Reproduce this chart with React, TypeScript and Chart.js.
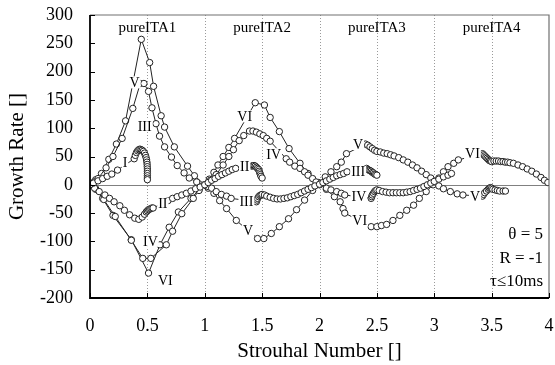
import React, { useEffect, useRef } from 'react';
import { Chart, registerables } from 'chart.js';
Chart.register(...registerables);

type P = [number, number];

// Growth rate modes (Strouhal number, growth rate)
const modeI: P[] = [
  [0, 0], [0.03, 3], [0.07, 7], [0.11, 11], [0.15, 15], [0.19, 19], [0.24, 26],
  [0.385, 46], [0.395, 52], [0.405, 57], [0.415, 60], [0.425, 62], [0.435, 63], [0.445, 62],
  [0.455, 61], [0.465, 59], [0.475, 56], [0.483, 52], [0.489, 48], [0.493, 44], [0.496, 40],
  [0.498, 36], [0.499, 32], [0.5, 28], [0.5, 24], [0.5, 20], [0.5, 16], [0.5, 12], [0.5, 9],
];

const modeII: P[] = [
  [0, 0], [0.04, -6], [0.08, -12], [0.13, -18], [0.17, -24], [0.21, -30], [0.26, -37],
  [0.3, -45], [0.345, -53], [0.39, -59], [0.425, -61], [0.455, -57], [0.475, -52], [0.49, -48],
  [0.5, -46], [0.51, -44], [0.52, -43], [0.53, -42], [0.54, -41], [0.55, -41],
  [0.68, -28], [0.72, -24], [0.76, -21], [0.8, -18], [0.84, -15], [0.88, -11], [0.92, -7],
  [0.96, -4], [1, 0], [1.03, 4], [1.06, 8], [1.09, 11], [1.12, 15], [1.15, 18], [1.18, 21],
  [1.21, 24], [1.24, 27], [1.27, 29],
  [1.41, 33], [1.42, 34], [1.43, 34], [1.44, 33], [1.45, 31], [1.46, 29], [1.47, 27],
  [1.475, 24], [1.48, 21], [1.485, 18], [1.49, 15], [1.5, 12],
];

const modeIII: P[] = [
  [0, 0], [0.035, 5], [0.07, 11], [0.14, 30], [0.2, 50], [0.28, 82], [0.373, 135],
  [0.438, 179], [0.47, 179], [0.51, 165], [0.54, 136], [0.575, 108], [0.606, 86], [0.65, 67],
  [0.71, 49], [0.76, 34], [0.82, 21], [0.865, 12], [0.93, 5], [1, 0],
  [1.03, -3], [1.06, -6], [1.1, -12], [1.145, -17], [1.19, -20], [1.23, -24],
  [1.45, -30], [1.455, -27], [1.46, -24], [1.47, -21], [1.48, -19], [1.49, -18], [1.5, -17],
  [1.52, -18], [1.54, -20], [1.57, -22], [1.6, -24], [1.63, -25], [1.66, -25], [1.69, -24],
  [1.72, -23], [1.75, -21], [1.78, -19], [1.81, -17], [1.84, -14], [1.87, -11], [1.9, -8],
  [1.93, -5], [1.96, -2], [2, 1], [2.03, 4], [2.06, 7], [2.09, 10], [2.12, 13], [2.15, 16],
  [2.18, 18], [2.21, 20], [2.24, 23],
  [2.41, 29], [2.42, 27], [2.43, 26], [2.44, 25], [2.45, 24], [2.46, 22], [2.47, 21],
  [2.48, 19], [2.49, 18], [2.5, 17],
];

const modeIV: P[] = [
  [0, 0], [0.05, -7], [0.12, -26], [0.22, -56], [0.36, -98], [0.46, -130], [0.53, -130],
  [0.665, -106], [0.72, -82], [0.8, -51], [0.9, -24], [0.95, -10], [1, 0],
  [1.05, 8], [1.1, 18], [1.16, 35], [1.21, 50], [1.25, 62], [1.3, 78], [1.34, 87], [1.39, 95],
  [1.42, 95], [1.45, 93], [1.48, 90], [1.51, 87], [1.54, 82], [1.57, 77],
  [1.71, 46], [1.74, 40], [1.785, 33], [1.83, 29], [1.87, 23], [1.9, 17], [1.94, 11],
  [1.97, 5], [2, 0], [2.06, -6], [2.1, -9], [2.15, -12], [2.19, -15], [2.22, -18],
  [2.45, -24], [2.455, -21], [2.46, -18], [2.47, -15], [2.48, -12], [2.49, -10], [2.5, -9],
  [2.52, -10], [2.55, -12], [2.58, -13], [2.61, -14], [2.64, -14], [2.67, -14], [2.7, -14],
  [2.73, -14], [2.76, -13], [2.79, -12], [2.82, -10], [2.85, -8], [2.88, -6], [2.91, -3],
  [2.94, 0], [2.97, 3], [3, 6], [3.04, 10], [3.08, 14], [3.12, 17], [3.15, 20],
];

const modeV: P[] = [
  [0, 0], [0.05, 9], [0.1, 20], [0.164, 45], [0.23, 72], [0.31, 113], [0.447, 257],
  [0.52, 216], [0.554, 174], [0.62, 122], [0.65, 102], [0.735, 67], [0.85, 33], [0.91, 16],
  [1, 0], [1.03, -6], [1.08, -15], [1.13, -28], [1.19, -42], [1.275, -63],
  [1.46, -95], [1.515, -95], [1.58, -86], [1.65, -74], [1.73, -60], [1.8, -44], [1.87, -27],
  [1.94, -10], [2, 3], [2.05, 14], [2.1, 23], [2.15, 32], [2.19, 40], [2.235, 55],
  [2.4, 72], [2.42, 70], [2.44, 67], [2.46, 64], [2.48, 61], [2.5, 59], [2.53, 58], [2.56, 56],
  [2.59, 55], [2.62, 53], [2.65, 51], [2.69, 48], [2.73, 44], [2.77, 40], [2.81, 35],
  [2.85, 30], [2.89, 24], [2.93, 18], [2.97, 12], [3, 5], [3.04, -2], [3.08, -7], [3.14, -12],
  [3.2, -16], [3.25, -18],
  [3.42, -20], [3.43, -17], [3.44, -14], [3.455, -11], [3.47, -8], [3.48, -6], [3.49, -5],
  [3.5, -6], [3.51, -8], [3.53, -9], [3.55, -10], [3.57, -11], [3.6, -11], [3.62, -11],
];

const modeVI: P[] = [
  [0, 0], [0.05, -8], [0.11, -24], [0.2, -54], [0.36, -97], [0.51, -156], [0.61, -106],
  [0.69, -75], [0.77, -48], [0.88, -24], [0.95, -9], [1, 0],
  [1.04, 10], [1.08, 22], [1.115, 35], [1.16, 50], [1.21, 66], [1.26, 82], [1.44, 145],
  [1.52, 141], [1.57, 119], [1.65, 94], [1.735, 64], [1.83, 38], [1.9, 20], [1.99, 4],
  [2.06, -8], [2.13, -21], [2.18, -30], [2.205, -42], [2.22, -50],
  [2.45, -74], [2.5, -74], [2.54, -72], [2.585, -70], [2.64, -63], [2.7, -54], [2.76, -45],
  [2.82, -36], [2.87, -24], [2.93, -12], [2.99, 0], [3.04, 12], [3.08, 23], [3.12, 32],
  [3.17, 38], [3.21, 44],
  [3.42, 55], [3.43, 53], [3.44, 51], [3.45, 49], [3.46, 47], [3.47, 45], [3.48, 43],
  [3.49, 42], [3.5, 41], [3.52, 42], [3.54, 42], [3.56, 42], [3.58, 41], [3.6, 41],
  [3.62, 40], [3.64, 40], [3.66, 39], [3.69, 38], [3.73, 35], [3.77, 32], [3.81, 28],
  [3.85, 24], [3.89, 19], [3.93, 13], [3.96, 8], [3.99, 4],
];

const modes: P[][] = [modeI, modeII, modeIII, modeIV, modeV, modeVI];

const xTickValues = [0, 0.5, 1, 1.5, 2, 2.5, 3, 3.5, 4];
const yTickValues = [-200, -150, -100, -50, 0, 50, 100, 150, 200, 250, 300];

const regionNames = ['pureITA1', 'pureITA2', 'pureITA3', 'pureITA4'];
const regionCenters = [0.5, 1.5, 2.5, 3.5];

// curve labels: text, St, growth rate
const curveLabels: [string, number, number][] = [
  ['I', 0.305, 40], ['V', 0.388, 181], ['III', 0.476, 104], ['II', 0.635, -33],
  ['IV', 0.526, -99], ['VI', 0.657, -169],
  ['VI', 1.348, 121], ['II', 1.348, 32], ['IV', 1.6, 54], ['III', 1.363, -30], ['V', 1.377, -80],
  ['V', 2.335, 72], ['III', 2.337, 23], ['IV', 2.343, -21], ['VI', 2.35, -63],
  ['VI', 3.333, 56], ['V', 3.355, -20],
];

const conditions = ['θ = 5', 'R = -1', 'τ≤10ms'];

const SERIF = '"Liberation Serif", "DejaVu Serif", serif';

const overlay = {
  id: 'overlay',
  beforeDatasetsDraw(chart: any) {
    const { ctx, chartArea: a, scales } = chart;
    const x = scales.x, y = scales.y;
    ctx.save();
    ctx.strokeStyle = '#9a9a9a';
    ctx.lineWidth = 1;
    ctx.setLineDash([1, 2]);
    for (const v of xTickValues) {
      if (v <= 0 || v >= 4) continue;
      const px = Math.round(x.getPixelForValue(v)) + 0.5;
      ctx.beginPath();
      ctx.moveTo(px, a.top);
      ctx.lineTo(px, a.bottom);
      ctx.stroke();
    }
    ctx.setLineDash([]);
    const py0 = Math.round(y.getPixelForValue(0)) + 0.5;
    ctx.strokeStyle = '#808080';
    ctx.beginPath();
    ctx.moveTo(a.left, py0);
    ctx.lineTo(a.right, py0);
    ctx.stroke();
    ctx.font = '15px ' + SERIF;
    ctx.fillStyle = '#000';
    ctx.textAlign = 'center';
    ctx.textBaseline = 'middle';
    regionNames.forEach((n, i) => ctx.fillText(n, x.getPixelForValue(regionCenters[i]), a.top + 13));
    ctx.restore();
  },
  afterDatasetsDraw(chart: any) {
    const { ctx, chartArea: a, scales } = chart;
    const x = scales.x, y = scales.y;
    ctx.save();
    ctx.font = '14px ' + SERIF;
    ctx.textAlign = 'center';
    ctx.textBaseline = 'middle';
    for (const [t, vx, vy] of curveLabels) {
      const px = x.getPixelForValue(vx);
      const py = y.getPixelForValue(vy);
      const w = ctx.measureText(t).width;
      ctx.fillStyle = '#fff';
      ctx.fillRect(px - w / 2 - 1, py - 6, w + 2, 12);
      ctx.fillStyle = '#000';
      ctx.fillText(t, px, py + 1);
    }
    ctx.font = '17px ' + SERIF;
    ctx.textAlign = 'right';
    const offs = [-63, -39, -16];
    conditions.forEach((c, i) => ctx.fillText(c, a.right - 6, a.bottom + offs[i]));
    // frame
    ctx.strokeStyle = '#707070';
    ctx.lineWidth = 1.2;
    ctx.beginPath();
    ctx.moveTo(a.left, a.top);
    ctx.lineTo(a.right, a.top);
    ctx.lineTo(a.right, a.bottom);
    ctx.stroke();
    ctx.strokeStyle = '#000';
    ctx.lineWidth = 1.8;
    ctx.beginPath();
    ctx.moveTo(a.left, a.top);
    ctx.lineTo(a.left, a.bottom);
    ctx.lineTo(a.right, a.bottom);
    ctx.stroke();
    ctx.lineWidth = 1;
    for (const v of yTickValues) {
      const py = Math.round(y.getPixelForValue(v)) + 0.5;
      ctx.beginPath();
      ctx.moveTo(a.left, py);
      ctx.lineTo(a.left + 5, py);
      ctx.stroke();
    }
    for (const v of xTickValues) {
      const px = Math.round(x.getPixelForValue(v)) + 0.5;
      ctx.beginPath();
      ctx.moveTo(px, a.bottom);
      ctx.lineTo(px, a.bottom - 5);
      ctx.stroke();
    }
    ctx.restore();
  },
};

const zeroPad = (s: any) => {
  s.paddingTop = 0;
  s.paddingBottom = 0;
  s.paddingLeft = 0;
  s.paddingRight = 0;
};

export default function App() {
  const ref = useRef<HTMLCanvasElement | null>(null);
  useEffect(() => {
    if (!ref.current) return;
    const datasets = modes.map((m) => ({
      data: m.map(([sx, g]) => ({ x: sx, y: g })),
      showLine: true,
      borderColor: '#222',
      borderWidth: 1,
      pointRadius: 3.2,
      pointBorderWidth: 1,
      pointBackgroundColor: '#fff',
      pointBorderColor: '#222',
      tension: 0,
    }));
    const chart = new Chart(ref.current, {
      type: 'scatter',
      data: { datasets },
      options: {
        animation: false,
        responsive: false,
        devicePixelRatio: 1,
        layout: { padding: { left: 0, right: 6, top: 15, bottom: 0 } },
        plugins: { legend: { display: false }, tooltip: { enabled: false } },
        scales: {
          x: {
            type: 'linear',
            min: 0,
            max: 4,
            afterFit: (s: any) => { s.height = 67; zeroPad(s); },
            afterBuildTicks: (s: any) => { s.ticks = xTickValues.map((v) => ({ value: v })); },
            ticks: { font: { family: SERIF, size: 18 }, color: '#000', padding: 17, maxRotation: 0, callback: (v: any) => String(v) },
            grid: { display: false, drawTicks: false },
            border: { display: false },
            title: { display: true, text: 'Strouhal Number []', font: { family: SERIF, size: 21 }, color: '#000', padding: { top: 0, bottom: 1 } },
          },
          y: {
            type: 'linear',
            min: -200,
            max: 300,
            afterFit: (s: any) => { s.width = 90; zeroPad(s); },
            afterBuildTicks: (s: any) => { s.ticks = yTickValues.map((v) => ({ value: v })); },
            ticks: { font: { family: SERIF, size: 18 }, color: '#000', padding: 17, callback: (v: any) => String(v) },
            grid: { display: false, drawTicks: false },
            border: { display: false },
            title: { display: true, text: 'Growth Rate []', font: { family: SERIF, size: 21 }, color: '#000', padding: { top: 5, bottom: 0 } },
          },
        },
      },
      plugins: [overlay],
    } as any);
    return () => chart.destroy();
  }, []);
  return (
    <div style={{ position: 'absolute', left: 0, top: 0, width: 555, height: 365, background: '#fff' }}>
      <canvas ref={ref} width={555} height={365} style={{ display: 'block' }} />
    </div>
  );
}
